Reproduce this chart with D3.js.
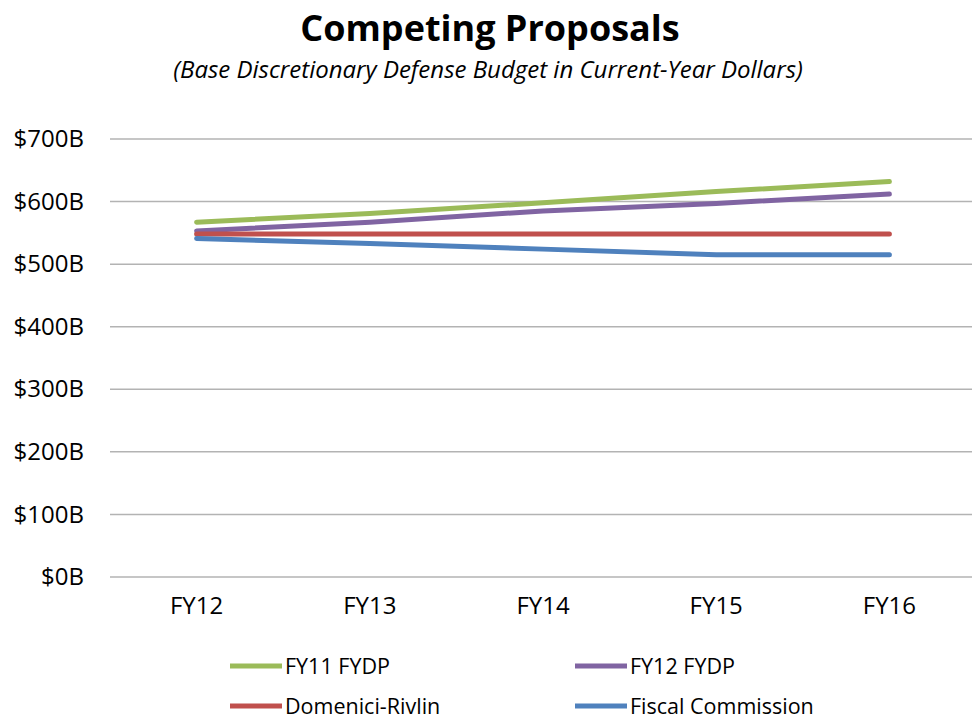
<!DOCTYPE html>
<meta charset="utf-8">
<style>
body { margin: 0; background: #fff; }
text { font-family: "Open Sans", sans-serif; fill: #000; }
.title { font-size: 36px; font-weight: bold; text-anchor: middle; }
.subtitle { font-size: 24px; font-style: italic; text-anchor: middle; }
.y-axis .tick text { font-size: 24px; }
.x-axis .tick text { font-size: 24px; }
.grid line { stroke: #b3b3b3; stroke-width: 1.5px; }
.series { fill: none; stroke-width: 5px; stroke-linecap: round; stroke-linejoin: round; }
.legend text { font-size: 21.5px; }
</style>
<svg width="972" height="721"></svg>
<script src="https://cdn.jsdelivr.net/npm/d3@7"></script>
<script>

var years = ["FY12", "FY13", "FY14", "FY15", "FY16"];
var yTicks = [0, 100, 200, 300, 400, 500, 600, 700];

var fy11Fydp = [567, 581, 598, 616, 632];
var fy12Fydp = [553, 567, 585, 597, 612];
var domeniciRivlin = [548, 548, 548, 548, 548];
var fiscalCommission = [541, 533, 524, 515, 515];

var seriesNames = ["FY11 FYDP", "FY12 FYDP", "Domenici-Rivlin", "Fiscal Commission"];
var seriesColors = ["#9bbb59", "#8064a2", "#c0504d", "#4f81bd"];

var series = [fy11Fydp, fy12Fydp, domeniciRivlin, fiscalCommission].map(function(v, i) {
  return { name: seriesNames[i], color: seriesColors[i], values: v };
});

var svg = d3.select("svg");

var x = d3.scaleBand().domain(years).range([110, 976]);
var y = d3.scaleLinear().domain([0, 700]).range([577, 139]);

svg.append("text").attr("class", "title")
    .attr("x", 490).attr("y", 41).text("Competing Proposals");
svg.append("text").attr("class", "subtitle")
    .attr("x", 488).attr("y", 78).text("(Base Discretionary Defense Budget in Current-Year Dollars)");

// gridlines
svg.append("g").attr("class", "grid")
  .selectAll("line")
  .data(yTicks)
  .enter().append("line")
    .attr("x1", 110).attr("x2", 972)
    .attr("y1", function(d) { return y(d); })
    .attr("y2", function(d) { return y(d); });

// y axis labels
var yAxis = svg.append("g").attr("class", "y-axis")
    .attr("transform", "translate(96,0)")
    .call(d3.axisLeft(y).tickValues(yTicks).tickSize(0).tickPadding(12)
      .tickFormat(function(d) { return "$" + d + "B"; }));
yAxis.select(".domain").remove();

var xAxis = svg.append("g").attr("class", "x-axis")
    .attr("transform", "translate(0,597)")
    .call(d3.axisBottom(x).tickSize(0).tickPadding(0));
xAxis.select(".domain").remove();
xAxis.selectAll("text").attr("dy", "0.71em");

var line = d3.line()
    .x(function(d, i) { return x(years[i]) + x.bandwidth() / 2; })
    .y(function(d) { return y(d); });

svg.selectAll(".series")
  .data(series)
  .enter().append("path")
    .attr("class", "series")
    .attr("stroke", function(d) { return d.color; })
    .attr("d", function(d) { return line(d.values); });

// legend, 2 columns
var legend = svg.append("g").attr("class", "legend")
  .selectAll("g")
  .data(series)
  .enter().append("g")
    .attr("transform", function(d, i) {
      return "translate(" + (i % 2 ? 575 : 230) + "," + (i < 2 ? 666 : 706) + ")";
    });

legend.append("line")
    .attr("x1", 0).attr("x2", 52)
    .attr("stroke", function(d) { return d.color; })
    .attr("stroke-width", 5);

legend.append("text")
    .attr("x", 55).attr("dy", "0.35em")
    .text(function(d) { return d.name; });

</script>
